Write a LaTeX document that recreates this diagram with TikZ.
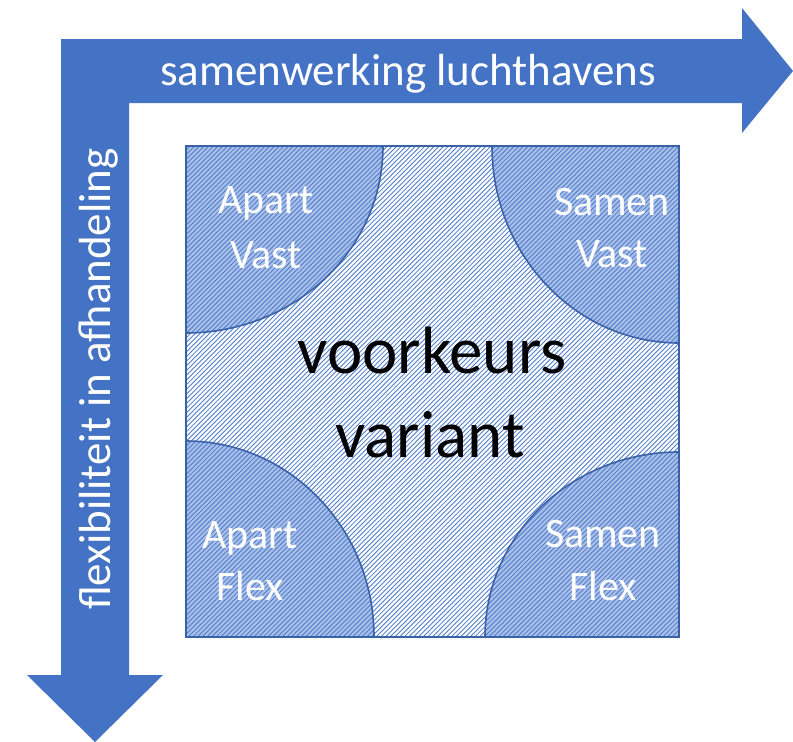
\documentclass[tikz,border=0pt]{standalone}
\usepackage{fontspec}
\setmainfont{Carlito}
\definecolor{arrowblue}{HTML}{4472C4}
\definecolor{edgeblue}{HTML}{3A62A8}
\definecolor{hatchblue}{HTML}{4F7DCC}
\definecolor{cornerfill}{HTML}{A9BFE8}
\tikzset{
  bigarrow/.style={fill=arrowblue, draw=none},
  cornerbase/.style={fill=cornerfill},
  hatchline/.style={draw=hatchblue, line width=0.85pt},
  cornerline/.style={draw=edgeblue, line width=1.6pt},
  whitelabel/.style={text=white, font=\fontsize{42}{50}\selectfont, inner sep=0pt, anchor=base},
  axislabel/.style={text=white, font=\fontsize{45}{52}\selectfont, inner sep=0pt, anchor=base},
  centrelabel/.style={text=black, font=\fontsize{67}{80}\selectfont, inner sep=0pt, anchor=base}
}
\begin{document}
\begin{tikzpicture}[x=1pt,y=-1pt]
\useasboundingbox (0,0) rectangle (793,742);
% L-shaped double arrow
\fill[bigarrow] (61,39) -- (742,39) -- (742,8) -- (793,71) -- (742,133) -- (742,103)
  -- (129,103) -- (129,675) -- (163,675) -- (95,742) -- (27,675) -- (61,675) -- cycle;
% square
\fill[white] (186,146) rectangle (679,637);
% corners
\fill[cornerbase] (186,146) -- (383,146) arc[start angle=0,end angle=90,x radius=197,y radius=187] -- cycle;
\fill[cornerbase] (679,146) -- (679,343) arc[start angle=90,end angle=180,x radius=187,y radius=197] -- cycle;
\fill[cornerbase] (186,637) -- (186,441) arc[start angle=270,end angle=360,x radius=188,y radius=196] -- cycle;
\fill[cornerbase] (679,637) -- (485,637) arc[start angle=180,end angle=270,x radius=194,y radius=185] -- cycle;
% hatching
\begin{scope}
  \clip (186,146) rectangle (679,637);
  \foreach \k in {0,...,212}{
    \draw[hatchline] ({\k*4.7-320},642) -- ++(510,-510);
  }
\end{scope}
\draw[cornerline] (383,146) arc[start angle=0,end angle=90,x radius=197,y radius=187];
\draw[cornerline] (679,343) arc[start angle=90,end angle=180,x radius=187,y radius=197];
\draw[cornerline] (186,441) arc[start angle=270,end angle=360,x radius=188,y radius=196];
\draw[cornerline] (485,637) arc[start angle=180,end angle=270,x radius=194,y radius=185];
\draw[cornerline] (186,146) rectangle (679,637);
% axis labels
\node[axislabel] (top) at (408,85) {samenwerking luchthavens};
\node[axislabel, rotate=90] (side) at (110,379) {flexibiliteit in afhandeling};
% corner labels
\node[whitelabel] (av1) at (266,213) {Apart};
\node[whitelabel] (av2) at (266,268) {Vast};
\node[whitelabel] (sv1) at (612,215) {Samen};
\node[whitelabel] (sv2) at (612,267) {Vast};
\node[whitelabel] (af1) at (250,548) {Apart};
\node[whitelabel] (af2) at (250,600) {Flex};
\node[whitelabel] (sf1) at (603,547) {Samen};
\node[whitelabel] (sf2) at (603,600) {Flex};
% centre label
\node[centrelabel] (c1) at (432,373) {voorkeurs};
\node[centrelabel] (c2) at (430,457) {variant};
\end{tikzpicture}
\end{document}
